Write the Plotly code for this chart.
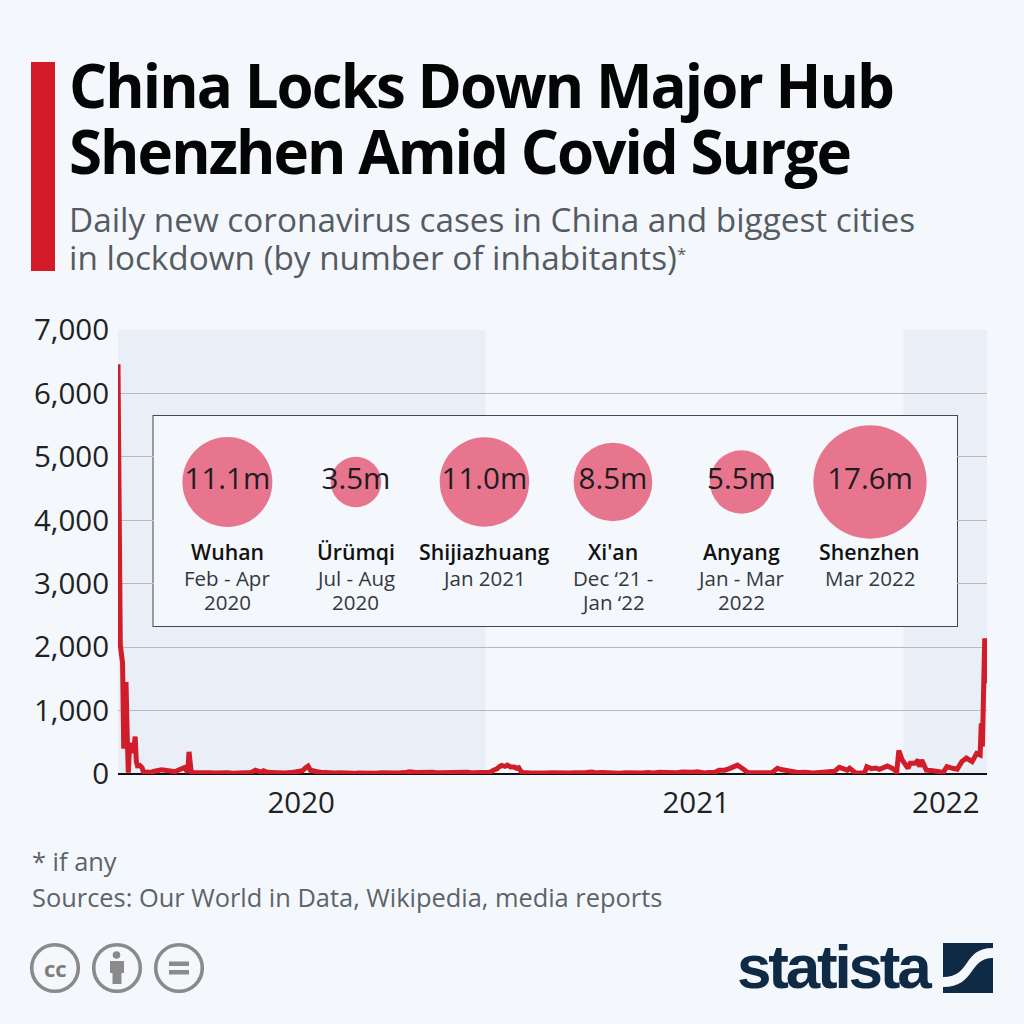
import plotly.graph_objects as go

title_lines = ["China Locks Down Major Hub", "Shenzhen Amid Covid Surge"]
subtitle_lines = ["Daily new coronavirus cases in China and biggest cities",
                  "in lockdown (by number of inhabitants)<span style=\"font-size:24px\"><sup>*</sup></span>"]
foot_lines = ["* if any", "Sources: Our World in Data, Wikipedia, media reports"]

y_ticks = [0, 1000, 2000, 3000, 4000, 5000, 6000, 7000]
y_labels = ["0", "1,000", "2,000", "3,000", "4,000", "5,000", "6,000", "7,000"]
year_tick_dates = ["2020-07-24", "2021-07-04", "2022-02-07"]
year_labels = ["2020", "2021", "2022"]
year_bands = [("2020-02-15", "2021-01-01"), ("2022-01-01", "2022-03-15")]

cities = ["Wuhan", "Ürümqi", "Shijiazhuang", "Xi'an", "Anyang", "Shenzhen"]
inhabitants_m = [11.1, 3.5, 11.0, 8.5, 5.5, 17.6]
inhabitant_labels = ["11.1m", "3.5m", "11.0m", "8.5m", "5.5m", "17.6m"]
period_first = ["Feb - Apr", "Jul - Aug", "Jan 2021", "Dec ‘21 -", "Jan - Mar", "Mar 2022"]
period_second = ["2020", "2020", "", "Jan ‘22", "2022", ""]

case_dates = [
 "2020-02-15","2020-02-16","2020-02-17","2020-02-18","2020-02-19","2020-02-20","2020-02-21","2020-02-22","2020-02-23","2020-02-24",
 "2020-02-25","2020-02-26","2020-02-27","2020-02-28","2020-02-29","2020-03-01","2020-03-02","2020-03-03","2020-03-05","2020-03-07",
 "2020-03-08","2020-03-09","2020-03-11","2020-03-13","2020-03-15","2020-03-17","2020-03-20","2020-03-22","2020-03-24","2020-03-27",
 "2020-03-30","2020-04-02","2020-04-05","2020-04-07","2020-04-09","2020-04-11","2020-04-13","2020-04-15","2020-04-16","2020-04-17",
 "2020-04-18","2020-04-19","2020-04-23","2020-04-27","2020-05-01","2020-05-05","2020-05-09","2020-05-13","2020-05-17","2020-05-21",
 "2020-05-25","2020-05-29","2020-06-02","2020-06-06","2020-06-10","2020-06-14","2020-06-17","2020-06-19","2020-06-21","2020-06-24",
 "2020-06-28","2020-07-02","2020-07-06","2020-07-10","2020-07-15","2020-07-20","2020-07-25","2020-07-28","2020-07-30","2020-08-01",
 "2020-08-03","2020-08-07","2020-08-10","2020-08-14","2020-08-18","2020-08-22","2020-08-26","2020-08-30","2020-09-03","2020-09-08",
 "2020-09-12","2020-09-17","2020-09-22","2020-09-27","2020-10-02","2020-10-07","2020-10-12","2020-10-17","2020-10-22","2020-10-27",
 "2020-11-01","2020-11-06","2020-11-11","2020-11-16","2020-11-21","2020-11-26","2020-12-01","2020-12-06","2020-12-11","2020-12-16",
 "2020-12-21","2020-12-26","2020-12-31","2021-01-05","2021-01-08","2021-01-11","2021-01-13","2021-01-15","2021-01-18","2021-01-20",
 "2021-01-23","2021-01-26","2021-01-28","2021-01-30","2021-02-01","2021-02-03","2021-02-08","2021-02-13","2021-02-18","2021-02-23",
 "2021-02-28","2021-03-05","2021-03-10","2021-03-15","2021-03-20","2021-03-25","2021-03-30","2021-04-04","2021-04-08","2021-04-13",
 "2021-04-18","2021-04-23","2021-04-28","2021-05-03","2021-05-08","2021-05-13","2021-05-18","2021-05-23","2021-05-28","2021-06-02",
 "2021-06-07","2021-06-12","2021-06-17","2021-06-22","2021-06-27","2021-07-01","2021-07-05","2021-07-08","2021-07-11","2021-07-15",
 "2021-07-20","2021-07-24","2021-07-29","2021-08-02","2021-08-05","2021-08-09","2021-08-14","2021-08-18","2021-08-22","2021-08-26",
 "2021-08-30","2021-09-03","2021-09-08","2021-09-13","2021-09-16","2021-09-21","2021-09-27","2021-10-02","2021-10-07","2021-10-14",
 "2021-10-20","2021-10-27","2021-11-02","2021-11-06","2021-11-09","2021-11-13","2021-11-15","2021-11-20","2021-11-28","2021-11-30",
 "2021-12-04","2021-12-08","2021-12-11","2021-12-15","2021-12-18","2021-12-22","2021-12-25","2021-12-26","2021-12-28","2021-12-31",
 "2022-01-03","2022-01-05","2022-01-07","2022-01-11","2022-01-14","2022-01-15","2022-01-17","2022-01-21","2022-01-25","2022-01-29",
 "2022-02-02","2022-02-04","2022-02-08","2022-02-13","2022-02-17","2022-02-21","2022-02-25","2022-03-02","2022-03-06","2022-03-09",
 "2022-03-10","2022-03-11","2022-03-12","2022-03-13","2022-03-14",
]
new_cases = [
 6460,2100,2040,1890,1750,400,890,1450,650,20,
 400,490,430,330,420,590,200,130,135,100,
 45,25,30,25,25,40,50,70,65,60,
 45,35,35,55,65,90,100,50,30,350,
 30,25,18,24,12,20,14,22,15,20,
 12,18,12,18,22,60,40,30,50,30,
 25,18,22,15,22,30,50,100,125,60,
 45,35,28,20,26,15,20,12,18,10,
 16,10,15,12,18,12,20,15,22,35,
 25,30,22,28,18,22,14,22,16,28,
 18,26,20,28,60,80,115,135,120,140,
 110,110,90,100,40,22,18,12,20,14,
 18,12,20,14,18,14,22,32,18,24,
 14,18,12,20,14,22,16,24,15,26,
 18,28,20,30,22,28,35,18,15,25,
 25,60,60,85,100,140,80,25,18,24,
 14,20,20,90,70,50,30,22,28,15,
 25,35,45,105,80,60,90,20,15,115,
 85,95,75,95,125,90,60,5,370,220,
 120,90,170,170,220,115,220,60,55,40,
 35,5,115,90,75,195,250,195,325,300,
 800,430,1300,2140,1430,
]

BG = "#f4f8fc"
BAND = "#eaeff7"
RED = "#d11c29"
NAVY = "#0f2a44"
ICON = "#8a8a8a"
FONT = "Open Sans"

def px(x): return x / 1024
def py(y): return 1 - y / 1024

fig = go.Figure()

fig.add_trace(go.Scatter(x=case_dates, y=new_cases, mode="lines", xaxis="x", yaxis="y",
                         line=dict(color=RED, width=5), cliponaxis=False, hoverinfo="skip", showlegend=False))

fig.add_trace(go.Scatter(x=cities, y=[0] * len(cities), xaxis="x2", yaxis="y2", mode="markers+text",
                         text=inhabitant_labels, textposition="middle center",
                         textfont=dict(family=FONT, size=29.5, color="#1c1c22"),
                         marker=dict(size=inhabitants_m, sizemode="area", sizeref=2 / 27.0 ** 2,
                                     color="#e8758e", opacity=1, line=dict(width=0)),
                         hoverinfo="skip", showlegend=False))

shapes = []
for a, b in year_bands:
    shapes.append(dict(type="rect", xref="x", yref="y domain", x0=a, x1=b, y0=0, y1=1,
                       fillcolor=BAND, line_width=0, layer="below"))
shapes.append(dict(type="rect", xref="x2 domain", yref="y2 domain", x0=0, x1=1, y0=0, y1=1,
                   fillcolor=BG, line=dict(color="#43484d", width=2), layer="below"))
def prect(x0, y0, x1, y1, color):
    shapes.append(dict(type="rect", xref="paper", yref="paper", x0=px(x0), x1=px(x1), y0=py(y1), y1=py(y0),
                       fillcolor=color, line_width=0, layer="above"))
def pcirc(cx, cy, r, fill, line=None, w=0):
    shapes.append(dict(type="circle", xref="paper", yref="paper", x0=px(cx - r), x1=px(cx + r), y0=py(cy + r), y1=py(cy - r),
                       fillcolor=fill, line=dict(color=line or fill, width=w), layer="above"))
prect(31, 62, 55, 271, "#d31c28")
for cx in (55, 117, 179):
    pcirc(cx, 968, 23.3, "rgba(0,0,0,0)", ICON, 3.6)
pcirc(116.5, 955, 3.8, ICON)
prect(110, 961, 124, 973, ICON)
prect(112.5, 973, 121.5, 984, ICON)
prect(169, 961.5, 189, 966, ICON)
prect(169, 970, 189, 974.5, ICON)
prect(943, 943, 993, 993, NAVY)
def P(x, y): return f"{px(x):.5f},{py(y):.5f}"
swoosh = (f"M{P(943,977)} C{P(972,977)} {P(962,948)} {P(993,948)} L{P(993,958)} "
          f"C{P(968,958)} {P(976,987)} {P(943,987)} Z")
shapes.append(dict(type="path", xref="paper", yref="paper", path=swoosh, fillcolor=BG, line_width=0, layer="above"))

annos = []
def txt(x, y, s, size, color, anchor="left", bold=False, family=FONT, spacing=None):
    if spacing is not None:
        s = f'<span style="letter-spacing:{spacing}px">{s}</span>'
    annos.append(dict(xref="paper", yref="paper", x=px(x), y=py(y), text=s, showarrow=False, xanchor=anchor, yanchor="middle",
                      font=dict(family=family, size=size, color=color, weight=700 if bold else 400),
                      align="center" if anchor == "center" else "left", borderpad=0))
txt(68, 85, title_lines[0], 60, "#050505", bold=True, spacing=-1.93)
txt(68, 151, title_lines[1], 60, "#050505", bold=True, spacing=-1.93)
txt(68, 218.5, subtitle_lines[0], 33.3, "#545c62")
txt(68, 257, subtitle_lines[1], 33.3, "#545c62")
txt(30.5, 861, foot_lines[0], 25.4, "#5b6469")
txt(30.5, 897, foot_lines[1], 25.4, "#5b6469")
txt(55.5, 968, "cc", 22, "#7d7d7d", "center", bold=True)
txt(736, 966, "statista", 62, NAVY, bold=True, family="Liberation Sans", spacing=-3.2)

for c, p1, p2 in zip(cities, period_first, period_second):
    annos.append(dict(xref="x2", yref="paper", x=c, y=py(551), text=c, showarrow=False, xanchor="center", yanchor="middle",
                      font=dict(family=FONT, size=21.3, color="#111111", weight=600)))
    annos.append(dict(xref="x2", yref="paper", x=c, y=py(577.5), text=p1, showarrow=False, xanchor="center", yanchor="middle",
                      font=dict(family=FONT, size=20.5, color="#33383c")))
    if p2:
        annos.append(dict(xref="x2", yref="paper", x=c, y=py(601.5), text=p2, showarrow=False, xanchor="center", yanchor="middle",
                          font=dict(family=FONT, size=20.5, color="#33383c")))

fig.update_layout(
    template="none",
    width=1024, height=1024, autosize=False, margin=dict(l=0, r=0, t=0, b=0, pad=0),
    paper_bgcolor=BG, plot_bgcolor=BG, showlegend=False, shapes=shapes, annotations=annos,
    font=dict(family=FONT),
    xaxis=dict(domain=[px(118), px(987)], range=["2020-02-15", "2022-03-15"], type="date", showgrid=False, automargin=False,
               zeroline=False, showline=False, ticks="", tickmode="array", tickvals=year_tick_dates, ticktext=year_labels,
               tickfont=dict(family=FONT, size=29.5, color="#222222"), anchor="y", ticklabelstandoff=8),
    yaxis=dict(domain=[py(774), py(330)], range=[0, 7000], tickmode="array", tickvals=y_ticks, ticktext=y_labels, automargin=False,
               showgrid=True, gridcolor="#b6babe", gridwidth=1.4, zeroline=True, zerolinecolor="#111111", zerolinewidth=1.6,
               showline=False, ticks="", tickfont=dict(family=FONT, size=29.5, color="#222222"), anchor="x", ticklabelstandoff=8),
    xaxis2=dict(domain=[px(153.5), px(957)], range=[-0.575, 5.677], type="category", categoryorder="array", categoryarray=cities,
                visible=False, anchor="y2", automargin=False),
    yaxis2=dict(domain=[py(626), py(416)], range=[-144, 66], visible=False, anchor="x2", automargin=False),
)

assert len(case_dates) == len(new_cases), (len(case_dates), len(new_cases))
fig.write_html("out.html", post_script="document.body.style.margin='0';", config={"displayModeBar": False})
